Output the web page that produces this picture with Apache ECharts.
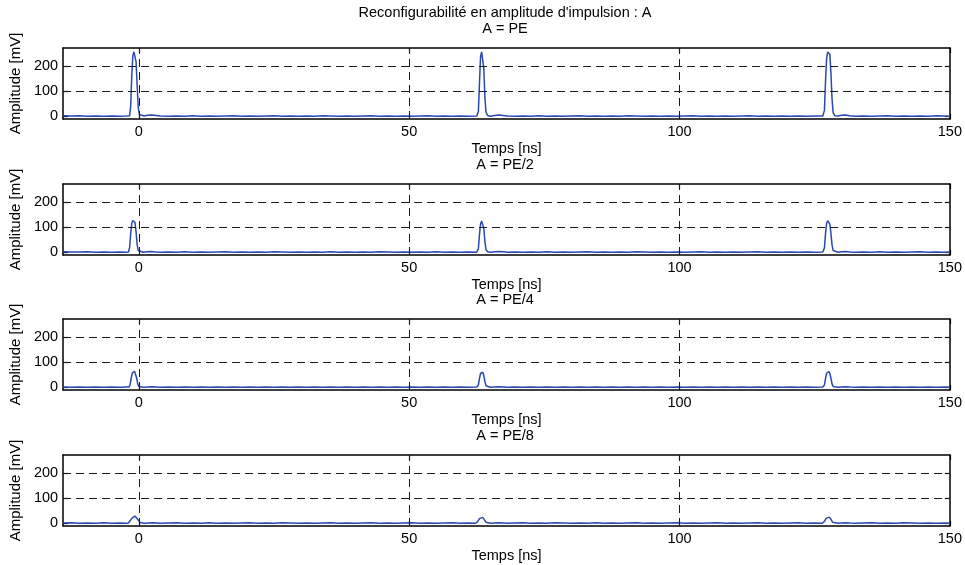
<!DOCTYPE html>
<html>
<head>
<meta charset="utf-8">
<script src="https://cdn.jsdelivr.net/npm/echarts@6/dist/echarts.min.js"></script>
<style>html,body{margin:0;padding:0;background:#fff}#c{width:965px;height:565px}</style>
</head>
<body>
<div id="c"></div>
<script>
const mainTitle = "Reconfigurabilité en amplitude d'impulsion : A";
const panelTitles = ["A = PE", "A = PE/2", "A = PE/4", "A = PE/8"];
const xTicks = [0, 50, 100, 150];
const yTicks = [0, 100, 200];
const xName = "Temps [ns]";
const yName = "Amplitude [mV]";

const sigPE = [[-14,3],[-12.5,2],[-11,3],[-9.5,1],[-8,2],[-6.5,1],[-5,2],[-3.5,1],[-2.2,2],[-1.7,3],
[-1.5,40],[-1.3,160],[-1.1,240],[-0.9,255],[-0.7,253],[-0.5,215],[-0.3,120],[-0.1,35],[0.1,8],[0.4,3],
[1.0,2],[1.6,5],[2.4,6],[3.2,4],[4,2],[5.5,1],[7,2],[8.5,1],[10,3],[11.5,1],[13,2],[14.5,1],[16,2],[17.5,3],[19,1],[20.5,2],[22,1],[23.5,2],[25,3],[26.5,1],[28,2],[29.5,1],[31,2],[32.5,1],[34,3],[35.5,2],[37,1],[38.5,2],[40,1],[41.5,2],[43,3],[44.5,1],[46,2],[47.5,1],[49,2],[50.5,1],[52,2],[53.5,3],[55,1],[56.5,2],[58,1],[59.5,2],[61,1],[62.5,2],
[62.8,20],[63.0,130],[63.2,235],[63.4,255],[63.6,250],[63.8,190],[64.0,80],[64.2,18],[64.5,4],[65,1],[65.8,4],[66.6,6],[67.4,4],[68.2,2],
[69.5,1],[71,2],[72.5,1],[74,3],[75.5,1],[77,2],[78.5,1],[80,2],[81.5,3],[83,1],[84.5,2],[86,1],[87.5,2],[89,1],[90.5,3],[92,2],[93.5,1],[95,2],[96.5,1],[98,2],[99.5,1],[101,2],[102.5,3],[104,1],[105.5,2],[107,1],[108.5,2],[110,1],[111.5,2],[113,3],[114.5,1],[116,2],[117.5,1],[119,2],[120.5,1],[122,2],[123.5,1],[125,2],[126.5,2],
[126.8,25],[127.0,140],[127.2,230],[127.4,254],[127.6,257],[127.8,245],[128.0,170],[128.2,70],[128.4,15],[128.7,3],[129.3,2],[130,5],[130.7,6],[131.5,3],[132.5,1],[134,2],[135.5,1],[137,2],[138.5,3],[140,1],[141.5,2],[143,1],[144.5,2],[146,1],[147.5,3],[149,2],[150,1]];

const sigPE2 = [[-14,3],[-12.5,2],[-11,2],[-9.5,3],[-8,1],[-6.5,2],[-5,1],[-3.5,2],[-2.3,1],[-1.9,2],
[-1.7,20],[-1.5,75],[-1.3,115],[-1.1,126],[-0.9,127],[-0.7,118],[-0.5,80],[-0.3,30],[-0.1,8],[0.2,3],
[0.8,1],[1.5,3],[2.3,4],[3.1,2],[4,1],[5.5,2],[7,1],[8.5,3],[10,1],[11.5,2],[13,1],[14.5,2],[16,3],[17.5,1],[19,2],[20.5,1],[22,2],[23.5,1],[25,3],[26.5,2],[28,1],[29.5,2],[31,1],[32.5,2],[34,1],[35.5,3],[37,1],[38.5,2],[40,1],[41.5,2],[43,1],[44.5,3],[46,2],[47.5,1],[49,2],[50.5,1],[52,2],[53.5,1],[55,3],[56.5,1],[58,2],[59.5,1],[61,2],[62.5,1],
[62.8,15],[63.0,70],[63.2,112],[63.4,124],[63.6,122],[63.8,95],[64.0,45],[64.2,12],[64.5,3],[65,1],[65.8,3],[66.6,4],[67.4,3],[68.2,1],
[69.5,2],[71,1],[72.5,2],[74,1],[75.5,3],[77,1],[78.5,2],[80,1],[81.5,2],[83,3],[84.5,1],[86,2],[87.5,1],[89,2],[90.5,1],[92,3],[93.5,2],[95,1],[96.5,2],[98,1],[99.5,2],[101,1],[102.5,2],[104,3],[105.5,1],[107,2],[108.5,1],[110,2],[111.5,1],[113,2],[114.5,3],[116,1],[117.5,2],[119,1],[120.5,2],[122,1],[123.5,2],[125,1],[126.5,2],
[126.8,18],[127.0,75],[127.2,115],[127.4,125],[127.6,126],[127.8,112],[128.0,75],[128.2,30],[128.4,8],[128.7,2],[129.3,1],[130,3],[130.7,4],[131.5,2],[132.5,1],[134,2],[135.5,1],[137,3],[138.5,1],[140,2],[141.5,1],[143,2],[144.5,3],[146,1],[147.5,2],[149,1],[150,2]];

const sigPE4 = [[-14,2],[-12.5,1],[-11,2],[-9.5,1],[-8,2],[-6.5,1],[-5,2],[-3.5,1],[-2.2,2],[-1.8,2],
[-1.6,12],[-1.4,38],[-1.2,57],[-1.0,63],[-0.8,64],[-0.6,58],[-0.4,38],[-0.2,14],[0.0,4],[0.3,2],
[0.9,1],[1.6,2],[2.4,3],[3.2,2],[4,1],[5.5,2],[7,1],[8.5,2],[10,1],[11.5,2],[13,1],[14.5,2],[16,1],[17.5,2],[19,1],[20.5,2],[22,1],[23.5,2],[25,1],[26.5,2],[28,1],[29.5,2],[31,1],[32.5,2],[34,1],[35.5,2],[37,1],[38.5,2],[40,1],[41.5,2],[43,1],[44.5,2],[46,1],[47.5,2],[49,1],[50.5,2],[52,1],[53.5,2],[55,1],[56.5,2],[58,1],[59.5,2],[61,1],[62.5,2],
[62.8,10],[63.0,35],[63.2,55],[63.4,61],[63.6,60],[63.8,48],[64.0,24],[64.2,7],[64.5,2],[65,1],[65.8,2],[66.6,3],[67.4,2],[68.2,1],
[69.5,2],[71,1],[72.5,2],[74,1],[75.5,2],[77,1],[78.5,2],[80,1],[81.5,2],[83,1],[84.5,2],[86,1],[87.5,2],[89,1],[90.5,2],[92,1],[93.5,2],[95,1],[96.5,2],[98,1],[99.5,2],[101,1],[102.5,2],[104,1],[105.5,2],[107,1],[108.5,2],[110,1],[111.5,2],[113,1],[114.5,2],[116,1],[117.5,2],[119,1],[120.5,2],[122,1],[123.5,2],[125,1],[126.5,2],
[126.8,10],[127.0,36],[127.2,56],[127.4,62],[127.6,63],[127.8,55],[128.0,36],[128.2,14],[128.4,4],[128.7,2],[129.3,1],[130,2],[130.7,3],[131.5,2],[132.5,1],[134,2],[135.5,1],[137,2],[138.5,1],[140,2],[141.5,1],[143,2],[144.5,1],[146,2],[147.5,1],[149,2],[150,1]];

const sigPE8 = [[-14,2],[-12.5,3],[-11,1],[-9.5,2],[-8,1],[-6.5,3],[-5,1],[-3.5,2],[-2.3,1],[-1.9,2],
[-1.6,8],[-1.3,20],[-1.0,27],[-0.7,29],[-0.4,26],[-0.1,14],[0.2,4],[0.5,2],
[1.0,1],[1.8,2],[2.6,3],[3.4,2],[4,1],[5.5,2],[7,3],[8.5,1],[10,2],[11.5,1],[13,3],[14.5,1],[16,2],[17.5,1],[19,2],[20.5,3],[22,1],[23.5,2],[25,1],[26.5,3],[28,2],[29.5,1],[31,2],[32.5,1],[34,2],[35.5,3],[37,1],[38.5,2],[40,1],[41.5,2],[43,3],[44.5,1],[46,2],[47.5,1],[49,2],[50.5,3],[52,1],[53.5,2],[55,1],[56.5,2],[58,3],[59.5,1],[61,2],[62.3,1],
[62.7,8],[63.0,19],[63.3,25],[63.6,24],[63.9,15],[64.2,5],[64.5,2],[65,1],[65.8,2],[66.6,3],[67.4,2],[68.2,1],
[69.5,2],[71,3],[72.5,1],[74,2],[75.5,1],[77,3],[78.5,2],[80,1],[81.5,2],[83,1],[84.5,3],[86,1],[87.5,2],[89,1],[90.5,2],[92,3],[93.5,1],[95,2],[96.5,1],[98,2],[99.5,3],[101,1],[102.5,2],[104,1],[105.5,2],[107,3],[108.5,1],[110,2],[111.5,1],[113,2],[114.5,3],[116,1],[117.5,2],[119,1],[120.5,2],[122,3],[123.5,1],[125,2],[126.4,1],
[126.8,8],[127.1,20],[127.4,26],[127.7,25],[128.0,16],[128.3,5],[128.6,2],[129.3,1],[130,2],[130.7,3],[131.5,2],[132.5,1],[134,2],[135.5,3],[137,1],[138.5,2],[140,1],[141.5,3],[143,2],[144.5,1],[146,2],[147.5,1],[149,2],[150,1]];

const signals = [sigPE, sigPE2, sigPE4, sigPE8];

const FONT = 'Liberation Sans, Arial, sans-serif';
const FS = 14.5;
const tops = [48, 184, 319, 455];
const H = 71, L = 60, R = 15;
const XMIN = -14, XMAX = 150, YMIN = -10, YMAX = 270;

const grid = [], xAxis = [], yAxis = [], series = [], graphic = [];
const axisLineStyle = {show: true, onZero: false, lineStyle: {color: '#000', width: 1.5}};

tops.forEach((top, i) => {
  grid.push({left: L, right: R, top: top, height: H, containLabel: false});
  xAxis.push({
    type: 'value', gridIndex: i, position: 'bottom', min: XMIN, max: XMAX,
    axisLine: axisLineStyle,
    axisTick: {show: true, inside: true, length: 5, customValues: xTicks, lineStyle: {color: '#000', width: 1.2}},
    axisLabel: {show: true, customValues: xTicks, margin: 5, color: '#000', fontSize: FS, fontFamily: FONT, showMaxLabel: true, showMinLabel: true},
    splitLine: {show: false},
    name: xName, nameLocation: 'middle', nameGap: 22,
    nameTextStyle: {color: '#000', fontSize: FS, fontFamily: FONT}
  });
  xAxis.push({
    type: 'value', gridIndex: i, position: 'top', min: XMIN, max: XMAX,
    axisLine: axisLineStyle,
    axisTick: {show: true, inside: true, length: 5, customValues: xTicks, lineStyle: {color: '#000', width: 1.2}},
    axisLabel: {show: false},
    splitLine: {show: false}
  });
  yAxis.push({
    type: 'value', gridIndex: i, position: 'left', min: YMIN, max: YMAX,
    axisLine: axisLineStyle,
    axisTick: {show: true, inside: true, length: 5, customValues: yTicks, lineStyle: {color: '#000', width: 1.2}},
    axisLabel: {show: true, customValues: yTicks, margin: 5, color: '#000', fontSize: FS, fontFamily: FONT},
    splitLine: {show: false},
    name: yName, nameLocation: 'middle', nameGap: 33, nameRotate: 90,
    nameTextStyle: {color: '#000', fontSize: 15, fontFamily: FONT}
  });
  yAxis.push({
    type: 'value', gridIndex: i, position: 'right', min: YMIN, max: YMAX,
    axisLine: axisLineStyle,
    axisTick: {show: true, inside: true, length: 5, customValues: yTicks, lineStyle: {color: '#000', width: 1.2}},
    axisLabel: {show: false},
    splitLine: {show: false}
  });
  series.push({
    type: 'line', xAxisIndex: 2 * i, yAxisIndex: 2 * i,
    data: signals[i], showSymbol: false, symbol: 'none', smooth: false, clip: true,
    lineStyle: {color: '#2a48b0', width: 1.5},
    animation: false, z: 3,
    markLine: {
      silent: true, symbol: 'none', animation: false,
      label: {show: false},
      lineStyle: {color: '#1a1a1a', type: [8, 5], width: 1},
      data: [{yAxis: 100}, {yAxis: 200}, {xAxis: 0}, {xAxis: 50}, {xAxis: 100}]
    }
  });
  graphic.push({
    type: 'text', x: L + (965 - L - R) / 2, y: top - 19,
    style: {text: panelTitles[i], textAlign: 'center', textVerticalAlign: 'middle', fill: '#000', fontSize: FS, fontFamily: FONT}
  });
});

graphic.push({
  type: 'text', x: L + (965 - L - R) / 2, y: 13,
  style: {text: mainTitle, textAlign: 'center', textVerticalAlign: 'middle', fill: '#000', fontSize: FS, fontFamily: FONT}
});

const chart = echarts.init(document.getElementById('c'), null, {renderer: 'canvas'});
chart.setOption({
  animation: false,
  backgroundColor: '#fff',
  grid, xAxis, yAxis, series, graphic
});
</script>
</body>
</html>
